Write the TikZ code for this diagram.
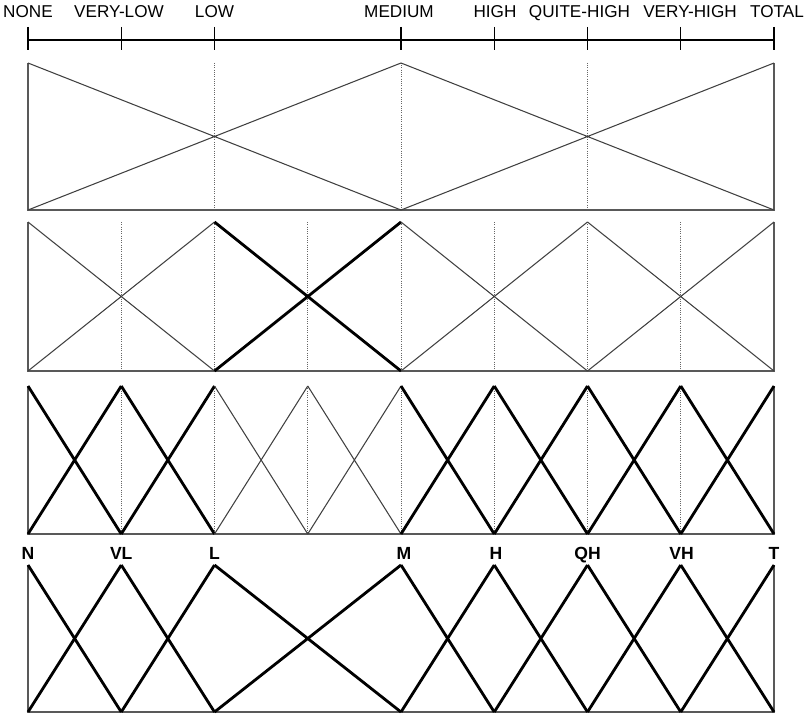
\documentclass[tikz,border=0pt]{standalone}
\usepackage{fontspec}
\setmainfont{Liberation Sans}
\usetikzlibrary{calc}

\begin{document}
\begin{tikzpicture}[x=0.025cm,y=-0.025cm,
  frame/.style={draw=black!65,line width=0.9pt},
  thinset/.style={draw=black!75,line width=0.75pt},
  thickset/.style={draw=black,line width=2pt},
  level/.style={densely dotted,draw=black!60,line width=0.6pt},
  term/.style={anchor=base,inner sep=0pt,font=\fontsize{12.2}{14}\selectfont},
  short/.style={anchor=base,inner sep=0pt,font=\fontsize{12.5}{14}\selectfont\bfseries}]
 \useasboundingbox (0,0) rectangle (806,716);
 % axis with the linguistic terms
 \draw[line width=1.4pt] (28,40)--(774,40);
 \foreach \x/\lx/\n/\t in {28/28/n/NONE,121.25/119/vl/VERY-LOW,214.5/214.5/l/LOW,401/399/m/MEDIUM,
  494.25/495/h/HIGH,587.5/579.5/qh/QUITE-HIGH,680.75/690/vh/VERY-HIGH,774/777/t/TOTAL}{
  \draw[line width=0.9pt] (\x,27)--(\x,50);
  \node[term] (term-\n) at (\lx,17.7) {\t};
 }
 % three terms
 \foreach \x in {214.5,401,587.5} \draw[level] (\x,63)--(\x,210);
 \draw[frame] (28,63)--(28,210)--(774,210)--(774,63);
 \foreach \a/\b in {28/401,401/774} \draw[thinset] (\a,63)--(\b,210) (\a,210)--(\b,63);
 % five terms
 \foreach \x in {121.25,214.5,307.75,401,494.25,587.5,680.75} \draw[level] (\x,222)--(\x,371);
 \draw[frame] (28,222)--(28,371)--(774,371)--(774,222);
 \foreach \a/\b/\s in {28/214.5/thinset,214.5/401/thickset,401/587.5/thinset,587.5/774/thinset}
  \draw[\s] (\a,222)--(\b,371) (\a,371)--(\b,222);
 % nine terms
 \foreach \x in {121.25,214.5,307.75,401,494.25,587.5,680.75} \draw[level] (\x,386)--(\x,534);
 \draw[frame] (28,386)--(28,534)--(774,534)--(774,386);
 \foreach \a/\b/\s in {28/121.25/thickset,121.25/214.5/thickset,214.5/307.75/thinset,307.75/401/thinset,
  401/494.25/thickset,494.25/587.5/thickset,587.5/680.75/thickset,680.75/774/thickset}
  \draw[\s] (\a,386)--(\b,534) (\a,534)--(\b,386);
 % unbalanced set
 \draw[frame] (28,565)--(28,712)--(774,712)--(774,565);
 \foreach \a/\b in {28/121.25,121.25/214.5,214.5/401,401/494.25,494.25/587.5,587.5/680.75,680.75/774}
  \draw[thickset] (\a,565)--(\b,712) (\a,712)--(\b,565);
 \foreach \x/\t in {28/N,121.25/VL,214.5/L,404/M,496/H,587.5/QH,681.5/VH,774/T}
  \node[short] (set-\t) at (\x,559) {\t};
\end{tikzpicture}
\end{document}
